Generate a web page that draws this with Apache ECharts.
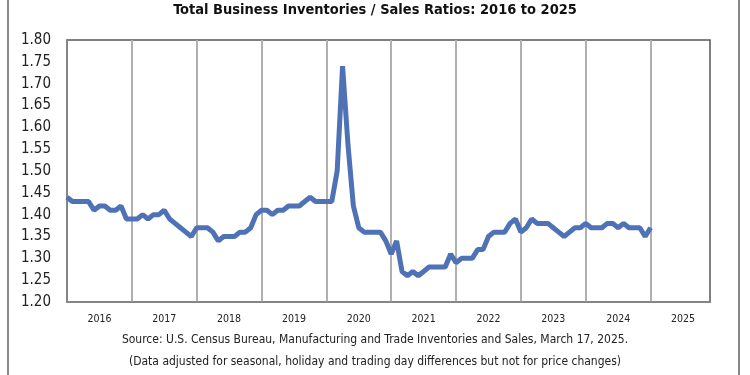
<!DOCTYPE html>
<html>
<head>
<meta charset="utf-8">
<script src="https://cdn.jsdelivr.net/npm/echarts@6/dist/echarts.min.js"></script>
<style>
  html, body { margin: 0; padding: 0; background: #fff; }
  #chart { width: 750px; height: 375px; }
</style>
</head>
<body>
<div id="chart"></div>
<script>
// tick labels (one per year)
const years = ['2016', '2017', '2018', '2019', '2020', '2021', '2022', '2023', '2024', '2025'];

// monthly inventories/sales ratios
const ratio2016 = [1.44, 1.43, 1.43, 1.43, 1.43, 1.41, 1.42, 1.42, 1.41, 1.41, 1.42, 1.39];
const ratio2017 = [1.39, 1.39, 1.40, 1.39, 1.40, 1.40, 1.41, 1.39, 1.38, 1.37, 1.36, 1.35];
const ratio2018 = [1.37, 1.37, 1.37, 1.36, 1.34, 1.35, 1.35, 1.35, 1.36, 1.36, 1.37, 1.40];
const ratio2019 = [1.41, 1.41, 1.40, 1.41, 1.41, 1.42, 1.42, 1.42, 1.43, 1.44, 1.43, 1.43];
const ratio2020 = [1.43, 1.43, 1.50, 1.74, 1.56, 1.42, 1.37, 1.36, 1.36, 1.36, 1.36, 1.34];
const ratio2021 = [1.31, 1.34, 1.27, 1.26, 1.27, 1.26, 1.27, 1.28, 1.28, 1.28, 1.28, 1.31];
const ratio2022 = [1.29, 1.30, 1.30, 1.30, 1.32, 1.32, 1.35, 1.36, 1.36, 1.36, 1.38, 1.39];
const ratio2023 = [1.36, 1.37, 1.39, 1.38, 1.38, 1.38, 1.37, 1.36, 1.35, 1.36, 1.37, 1.37];
const ratio2024 = [1.38, 1.37, 1.37, 1.37, 1.38, 1.38, 1.37, 1.38, 1.37, 1.37, 1.37, 1.35];
const ratio2025 = [1.37];

const months = [];
years.forEach(y => { for (let m = 1; m <= 12; m++) months.push(y + '-' + (m < 10 ? '0' + m : m)); });

const ratios = [].concat(ratio2016, ratio2017, ratio2018, ratio2019, ratio2020,
                         ratio2021, ratio2022, ratio2023, ratio2024, ratio2025);

const font = '"Liberation Sans Narrow", "DejaVu Sans Condensed", sans-serif';

const chart = echarts.init(document.getElementById('chart'));

const option = {
    animation: false,
    title: {
        text: 'Total Business Inventories / Sales Ratios: 2016 to 2025',
        left: 'center',
        top: -2,
        textStyle: { fontFamily: font, fontSize: 14.5, fontWeight: 'bold', color: '#111' }
    },
    grid: {
        left: 67, right: 40, top: 40, bottom: 73,
        show: true, borderColor: '#555', borderWidth: 1.5
    },
    xAxis: {
        type: 'category',
        data: months,
        boundaryGap: false,
        axisLine: { lineStyle: { color: '#888', width: 1.5 } },
        axisTick: { show: false },
        axisLabel: {
            interval: (idx) => idx % 12 === 6,
            formatter: (v) => v.slice(0, 4),
            fontFamily: font, fontSize: 10.5, color: '#222', margin: 12
        },
        splitLine: {
            show: true,
            interval: (idx) => idx % 12 === 0 && idx > 0,
            lineStyle: { color: '#b0b0b0', width: 2 }
        }
    },
    yAxis: {
        type: 'value',
        min: 1.2, max: 1.8, interval: 0.05,
        axisLine: { show: true, lineStyle: { color: '#888', width: 1.5 } },
        axisTick: { show: false },
        splitLine: { show: false },
        axisLabel: {
            formatter: (v) => v.toFixed(2),
            fontFamily: font, fontSize: 15, color: '#222', margin: 16
        }
    },
    series: [{
        type: 'line',
        data: ratios,
        showSymbol: false,
        lineStyle: { color: '#4e72b5', width: 5 },
        itemStyle: { color: '#4e72b5' }
    }],
    graphic: [
        {
            type: 'rect',
            shape: { x: 8, y: -10, width: 731, height: 400 },
            style: { fill: 'none', stroke: '#888', lineWidth: 2 },
            silent: true
        },
        {
            type: 'text', left: 'center', top: 334,
            style: {
                text: 'Source: U.S. Census Bureau, Manufacturing and Trade Inventories and Sales, March 17, 2025.',
                font: '12px ' + font, fill: '#222'
            }
        },
        {
            type: 'text', left: 'center', top: 356,
            style: {
                text: '(Data adjusted for seasonal, holiday and trading day differences but not for price changes)',
                font: '12px ' + font, fill: '#222'
            }
        }
    ]
};

chart.setOption(option);
</script>
</body>
</html>
